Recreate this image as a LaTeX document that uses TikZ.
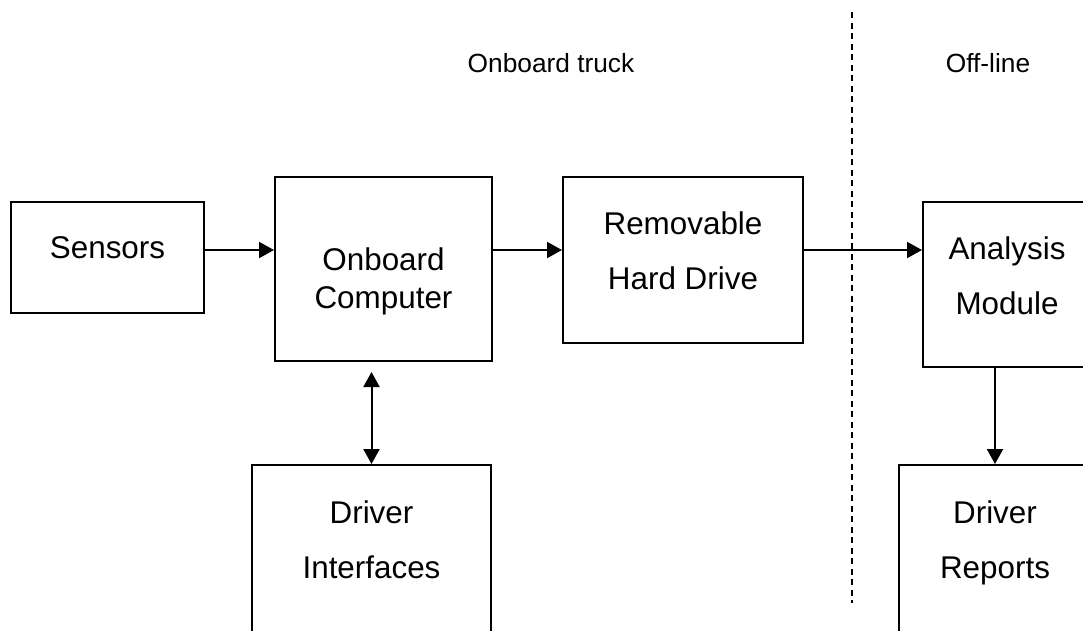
\documentclass[tikz,border=0pt]{standalone}
\usepackage{fontspec}
\setsansfont{Liberation Sans}
\usetikzlibrary{arrows.meta, calc, positioning}

\begin{document}
\begin{tikzpicture}[x=1pt, y=-1pt, font=\sffamily,
                    >={Triangle[length=15pt, width=16pt]}]

        % Setup the styles for the boxes, texts and arrows
        \tikzset{box style/.style={draw, rectangle, line width=2pt, inner sep=0pt},
                 box text/.style={align=center,
                                  font=\sffamily\fontsize{31.4}{55}\selectfont},
                 zone text/.style={font=\sffamily\fontsize{26.3}{30}\selectfont},
                 flow/.style={line width=2pt, ->},
                 divider/.style={line width=1.5pt, dash pattern=on 6pt off 4.5pt}}

        \useasboundingbox (0,0) rectangle (1083,630);
        \clip (0,0) rectangle (1083,630);

        % Draw the zone titles and the divider
        \node[zone text] at (551, 63)  (onboard) {Onboard truck};
        \node[zone text] at (988, 63)  (offline) {Off-line};
        \coordinate (div top)    at (852, 12);
        \coordinate (div bottom) at (852, 603);
        \draw[divider] (div top) -- (div bottom);

        % Draw the boxes
        \node[box style, minimum width=193pt, minimum height=111pt,
              label={[box text, yshift=9.5pt]center:Sensors}]
            at (107.5, 257.5) (sensors) {};
        \node[box style, minimum width=217pt, minimum height=184pt,
              label={[box text, font=\sffamily\fontsize{31.4}{38}\selectfont,
                      yshift=-12pt]center:Onboard\\Computer}]
            at (383.5, 269)   (computer) {};
        \node[box style, minimum width=240pt, minimum height=166pt,
              label={[box text, yshift=9pt]center:Removable\\Hard Drive}]
            at (683, 260)     (harddrive) {};
        \node[box style, minimum width=168pt, minimum height=165pt,
              label={[box text, yshift=9pt]center:Analysis\\Module}]
            at (1007, 284.5)  (analysis) {};
        \node[box style, minimum width=239pt, minimum height=195pt,
              label={[box text, yshift=23pt]center:Driver\\Interfaces}]
            at (371.5, 562.5) (interfaces) {};
        \node[box style, minimum width=192pt, minimum height=195pt,
              label={[box text, yshift=19.5pt]center:Driver\\Reports}]
            at (995, 562.5)   (reports) {};

        % Connect the boxes with arrows
        \coordinate (flow level) at (0, 250);
        \draw[flow] (sensors.east |- flow level)   -- (computer.west |- flow level);
        \draw[flow] (computer.east |- flow level)  -- (harddrive.west |- flow level);
        \draw[flow] (harddrive.east |- flow level) -- (analysis.west |- flow level);
        \draw[flow, <->] ($(interfaces.north |- computer.south) + (0, 10)$) -- (interfaces.north);
        \draw[flow] (reports.north |- analysis.south) -- (reports.north);
\end{tikzpicture}
\end{document}
